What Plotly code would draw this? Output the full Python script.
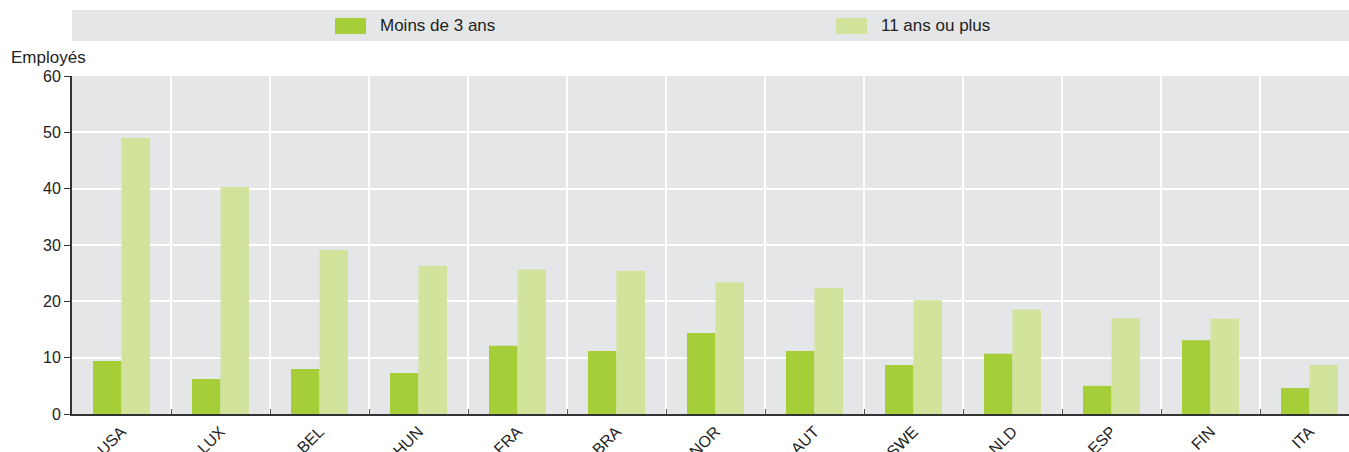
import plotly.graph_objects as go

countries = ["USA", "LUX", "BEL", "HUN", "FRA", "BRA", "NOR", "AUT", "SWE", "NLD", "ESP", "FIN", "ITA"]
moins_3_ans = [9.4, 6.2, 8.0, 7.3, 12.1, 11.2, 14.4, 11.2, 8.7, 10.7, 5.0, 13.1, 4.6]
onze_ans_plus = [49.0, 40.3, 29.1, 26.3, 25.6, 25.4, 23.4, 22.4, 20.2, 18.5, 17.0, 16.9, 8.7]
series_names = ["Moins de 3 ans", "11 ans ou plus"]
y_title = "Employés"

DARK = "#a6ce39"
LIGHT = "#d2e39b"
BG = "#e5e6e8"
AXIS = "#333333"
TXT = "#222222"
FONT = "Liberation Sans, Arial, sans-serif"

W, H = 1349, 452
ml, mr, mt, mb = 72, 0, 76, 38
pw = W - ml - mr
ph = H - mt - mb
CAT_PX = 99.0  # pixel width of one category in the reference (last one runs past the edge)


def px_x(px):
    return (px - ml) / pw


def px_y(py):
    return 1 + (mt - py) / ph


fig = go.Figure()
fig.add_trace(go.Bar(x=countries, y=moins_3_ans, name=series_names[0],
                     marker=dict(color=DARK, line=dict(width=0))))
fig.add_trace(go.Bar(x=countries, y=onze_ans_plus, name=series_names[1],
                     marker=dict(color=LIGHT, line=dict(width=0))))

# legend band
fig.add_shape(type="rect", xref="paper", yref="paper", x0=0, x1=1,
              y0=px_y(41), y1=px_y(10), fillcolor=BG, line=dict(width=0), layer="below")

# manual legend entries
legend_x = [335, 836]
for nm, col, lx in zip(series_names, [DARK, LIGHT], legend_x):
    fig.add_shape(type="rect", xref="paper", yref="paper",
                  x0=px_x(lx), x1=px_x(lx + 31), y0=px_y(34), y1=px_y(18),
                  fillcolor=col, line=dict(width=0))
    fig.add_annotation(text=nm, xref="paper", yref="paper", x=px_x(lx + 43), y=px_y(26),
                       xanchor="left", yanchor="middle", showarrow=False,
                       font=dict(family=FONT, size=17, color=TXT))

fig.add_annotation(text=y_title, xref="paper", yref="paper", x=px_x(9), y=px_y(58),
                   xanchor="left", yanchor="middle", showarrow=False,
                   font=dict(family=FONT, size=17, color=TXT))

x_end = -0.5 + pw / CAT_PX

fig.update_layout(
    width=W, height=H,
    margin=dict(l=ml, r=mr, t=mt, b=mb, autoexpand=False),
    paper_bgcolor="white", plot_bgcolor=BG,
    barmode="group", bargap=0.424, bargroupgap=0,
    showlegend=False,
    font=dict(family=FONT, size=16, color=TXT),
    xaxis=dict(type="category", range=[-0.5, x_end], tickson="boundaries",
               showgrid=True, gridcolor="white", gridwidth=2,
               ticks="inside", ticklen=5, tickcolor="#555", tickwidth=1,
               showline=True, linecolor=AXIS, linewidth=2, tickangle=-45, automargin=False,
               tickfont=dict(family=FONT, size=16, color=TXT), fixedrange=True),
    yaxis=dict(range=[0, 60], dtick=10, showgrid=True, gridcolor="white", gridwidth=2,
               ticks="outside", ticklen=6, tickcolor=AXIS, showline=True, linecolor=AXIS, linewidth=2,
               zeroline=False, automargin=False,
               tickfont=dict(family=FONT, size=16, color=TXT), fixedrange=True),
)

fig.write_html("out.html", config={"displayModeBar": False},
               post_script="document.body.style.margin='0';document.body.style.overflow='hidden';")
